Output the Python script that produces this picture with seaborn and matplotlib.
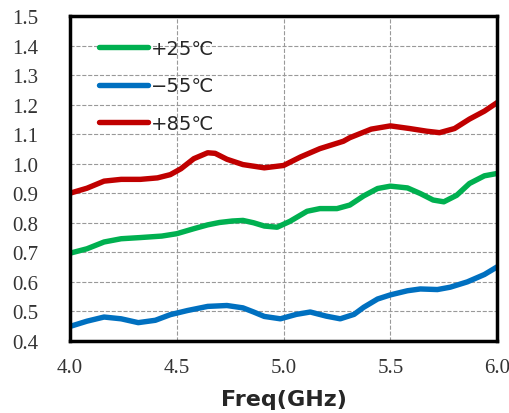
import matplotlib
matplotlib.use("Agg")
import matplotlib.pyplot as plt
import pandas as pd
import seaborn as sns

# +25 C
f_p25 = [4.00, 4.08, 4.16, 4.24, 4.33, 4.43, 4.50, 4.58, 4.645, 4.70, 4.76, 4.81, 4.86,
         4.91, 4.97, 5.03, 5.11, 5.17, 5.25, 5.31, 5.375, 5.44, 5.50, 5.58, 5.64, 5.70,
         5.75, 5.81, 5.87, 5.94, 6.00]
v_p25 = [0.697, 0.712, 0.735, 0.746, 0.750, 0.755, 0.763, 0.780, 0.793, 0.801, 0.806,
         0.808, 0.800, 0.789, 0.785, 0.805, 0.839, 0.848, 0.848, 0.860, 0.891, 0.916,
         0.924, 0.918, 0.899, 0.877, 0.871, 0.893, 0.933, 0.959, 0.967]

# -55 C
f_m55 = [4.00, 4.08, 4.16, 4.24, 4.32, 4.40, 4.47, 4.55, 4.645, 4.735, 4.81, 4.86, 4.91,
         4.985, 5.06, 5.125, 5.20, 5.265, 5.33, 5.375, 5.44, 5.50, 5.58, 5.64, 5.72,
         5.78, 5.86, 5.94, 6.00]
v_m55 = [0.449, 0.467, 0.481, 0.475, 0.462, 0.470, 0.489, 0.503, 0.517, 0.520, 0.512,
         0.498, 0.483, 0.475, 0.490, 0.498, 0.484, 0.475, 0.490, 0.514, 0.542, 0.556,
         0.570, 0.576, 0.574, 0.582, 0.600, 0.625, 0.651]

# +85 C
f_p85 = [4.00, 4.08, 4.16, 4.24, 4.33, 4.41, 4.47, 4.52, 4.58, 4.645, 4.68, 4.735, 4.81,
         4.91, 5.00, 5.08, 5.17, 5.28, 5.31, 5.41, 5.50, 5.59, 5.67, 5.73, 5.80, 5.87,
         5.94, 6.00]
v_p85 = [0.900, 0.917, 0.941, 0.947, 0.947, 0.952, 0.963, 0.983, 1.017, 1.037, 1.035,
         1.015, 0.997, 0.986, 0.994, 1.023, 1.051, 1.076, 1.088, 1.117, 1.128, 1.119,
         1.110, 1.105, 1.119, 1.151, 1.178, 1.207]

labels = ["+25℃", "−55℃", "+85℃"]
colors = ["#00B050", "#0070C0", "#C00000"]
x_ticks = [4.0, 4.5, 5.0, 5.5, 6.0]
y_ticks = [0.4, 0.5, 0.6, 0.7, 0.8, 0.9, 1.0, 1.1, 1.2, 1.3, 1.4, 1.5]

long = pd.concat([
    pd.DataFrame({"freq": f_p25, "val": v_p25, "temp": labels[0]}),
    pd.DataFrame({"freq": f_m55, "val": v_m55, "temp": labels[1]}),
    pd.DataFrame({"freq": f_p85, "val": v_p85, "temp": labels[2]}),
], ignore_index=True)

sns.set_style("white")
plt.rcParams["font.family"] = ["DejaVu Sans", "Noto Sans CJK SC"]

fig = plt.figure(figsize=(5.1, 4.14), dpi=100)
ax = fig.add_axes([0.137, 0.174, 0.838, 0.785])

sns.lineplot(
    data=long, x="freq", y="val", hue="temp",
    hue_order=labels, palette=colors,
    linewidth=3.9, sort=True, ax=ax
)
for line in ax.get_lines():
    line.set_solid_capstyle("round")
    line.set_solid_joinstyle("round")

ax.set_xlim(4.0, 6.0)
ax.set_ylim(0.4, 1.5)
ax.set_xticks(x_ticks)
ax.set_yticks(y_ticks)
ax.set_xticklabels([f"{v:.1f}" for v in x_ticks],
                   family="Liberation Serif", fontsize=15, color="#333333")
ax.set_yticklabels([f"{v:.1f}" for v in y_ticks],
                   family="Liberation Serif", fontsize=15, color="#333333")

ax.grid(True, linestyle="--", color="#999999", linewidth=0.8)
for s in ax.spines.values():
    s.set_color("black")
    s.set_linewidth(2.5)
ax.tick_params(axis="both", direction="out", length=5, width=2, color="black")
ax.tick_params(axis="y", pad=18)
ax.tick_params(axis="x", pad=7)

ax.set_xlabel("Freq(GHz)", fontsize=16, fontweight="bold", labelpad=9)
ax.set_ylabel("")

ax.legend(
    loc="upper left", frameon=False, fontsize=14,
    handlelength=2.55, handletextpad=0.15, labelspacing=0.95,
    borderaxespad=0.2, bbox_to_anchor=(0.04, 0.965)
)

fig.savefig("out.png", dpi=100)
